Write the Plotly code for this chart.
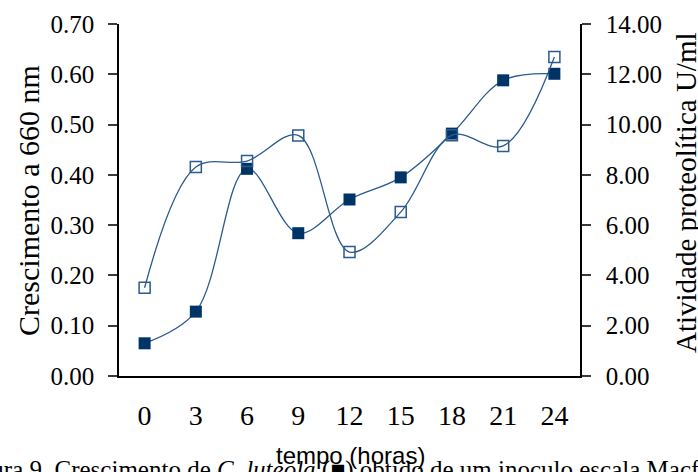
import plotly.graph_objects as go

# ---- data ----
hours = [0, 3, 6, 9, 12, 15, 18, 21, 24]
hour_labels = ["0", "3", "6", "9", "12", "15", "18", "21", "24"]
crescimento = [0.065, 0.128, 0.412, 0.284, 0.351, 0.395, 0.482, 0.588, 0.601]
atividade = [3.51, 8.31, 8.55, 9.57, 4.93, 6.52, 9.58, 9.15, 12.69]
left_ticks = [0.0, 0.1, 0.2, 0.3, 0.4, 0.5, 0.6, 0.7]
right_ticks = [0, 2, 4, 6, 8, 10, 12, 14]

half = (hours[1] - hours[0]) / 2
boundaries = [h - half for h in hours] + [hours[-1] + half]
xrange = [boundaries[0], boundaries[-1]]

SERIF = "Liberation Serif, Times New Roman, serif"
SANS = "Liberation Sans Narrow, Arial Narrow, Liberation Sans, Arial, sans-serif"
LINE_C = "#2a5a8e"
FILL_C = "#003366"
TICK_C = "#3a3a3a"

fig = go.Figure()
fig.add_trace(go.Scatter(
    x=hours, y=atividade, yaxis="y2", mode="lines+markers",
    line=dict(shape="spline", smoothing=1.0, color=LINE_C, width=1.3),
    marker=dict(symbol="square-open", size=11, color=LINE_C, line=dict(width=1.5, color=LINE_C)),
    showlegend=False, name="Atividade proteolítica"))
fig.add_trace(go.Scatter(
    x=hours, y=crescimento, yaxis="y", mode="lines+markers",
    line=dict(shape="spline", smoothing=1.0, color=LINE_C, width=1.3),
    marker=dict(symbol="square", size=12, color=FILL_C, line=dict(width=0)),
    showlegend=False, name="Crescimento"))

common_x = dict(range=xrange, showgrid=False, zeroline=False, fixedrange=True)

fig.update_layout(
    width=698, height=472,
    margin=dict(l=119, r=118, t=24, b=96),
    paper_bgcolor="white", plot_bgcolor="white",
    font=dict(family=SERIF, color="black"),
    xaxis=dict(**common_x, tickvals=hours, ticktext=hour_labels,
               ticks="outside", ticklen=0, tickfont=dict(size=28, family=SERIF),
               ticklabelstandoff=14,
               showline=True, linecolor="black", linewidth=1.5, anchor="y"),
    xaxis2=dict(**common_x, overlaying="x", anchor="y", side="bottom",
                tickvals=boundaries, ticks="outside", ticklen=9, tickwidth=1.5,
                tickcolor=TICK_C, showticklabels=False, showline=False),
    xaxis3=dict(**common_x, overlaying="x", anchor="y", side="bottom",
                tickvals=boundaries, ticks="inside", ticklen=9, tickwidth=1.5,
                tickcolor=TICK_C, showticklabels=False, showline=False),
    xaxis4=dict(**common_x, overlaying="x", anchor="y", side="top",
                showticklabels=False, ticks="", showline=True,
                linecolor="#7f7f7f", linewidth=1.5),
    yaxis=dict(range=[0, 0.70], tickvals=left_ticks, tickformat=".2f",
               ticks="outside", ticklen=9, tickwidth=1.5, tickcolor=TICK_C,
               tickfont=dict(size=25, family=SERIF), ticklabelstandoff=9,
               showline=True, linecolor="black", linewidth=1.5,
               showgrid=False, zeroline=False, fixedrange=True, anchor="x"),
    yaxis2=dict(range=[0, 14], tickvals=right_ticks, tickformat=".2f",
                overlaying="y", side="right", anchor="x",
                ticks="outside", ticklen=9, tickwidth=1.5, tickcolor=TICK_C,
                tickfont=dict(size=25, family=SERIF), ticklabelstandoff=10,
                showline=True, linecolor="black", linewidth=1.5,
                showgrid=False, zeroline=False, fixedrange=True),
    yaxis3=dict(range=[0, 0.70], tickvals=left_ticks, overlaying="y", side="left",
                anchor="x", ticks="inside", ticklen=9, tickwidth=1.5,
                tickcolor=TICK_C, showticklabels=False, showline=False,
                showgrid=False, zeroline=False, fixedrange=True),
    yaxis4=dict(range=[0, 14], tickvals=right_ticks, overlaying="y", side="right",
                anchor="x", ticks="inside", ticklen=9, tickwidth=1.5,
                tickcolor=TICK_C, showticklabels=False, showline=False,
                showgrid=False, zeroline=False, fixedrange=True),
)

plot_w = 698 - 119 - 118
plot_h = 472 - 24 - 96

def px_x(px):
    return (px - 119) / plot_w

def px_y(py):
    return (472 - 96 - py) / plot_h

annotations = [
    dict(text="Crescimento a 660 nm", textangle=-90, x=px_x(28), y=px_y(201),
         xref="paper", yref="paper", xanchor="center", yanchor="middle",
         showarrow=False, font=dict(family=SERIF, size=30)),
    dict(text="Atividade proteolítica U/ml", textangle=-90, x=px_x(686), y=px_y(193),
         xref="paper", yref="paper", xanchor="center", yanchor="middle",
         showarrow=False, font=dict(family=SERIF, size=29)),
    dict(text="Figura 9. Crescimento de <i>C. luteola</i> (■) obtido de um inoculo escala Macfarland",
         x=px_x(-44), y=px_y(454), xref="paper", yref="paper",
         xanchor="left", yanchor="top", showarrow=False,
         font=dict(family=SERIF, size=25)),
    dict(text="tempo (horas)", x=px_x(350), y=px_y(455),
         xref="paper", yref="paper", xanchor="center", yanchor="middle",
         showarrow=False, font=dict(family=SANS, size=24)),
]
fig.update_layout(annotations=annotations)

fig.write_html("out.html")
